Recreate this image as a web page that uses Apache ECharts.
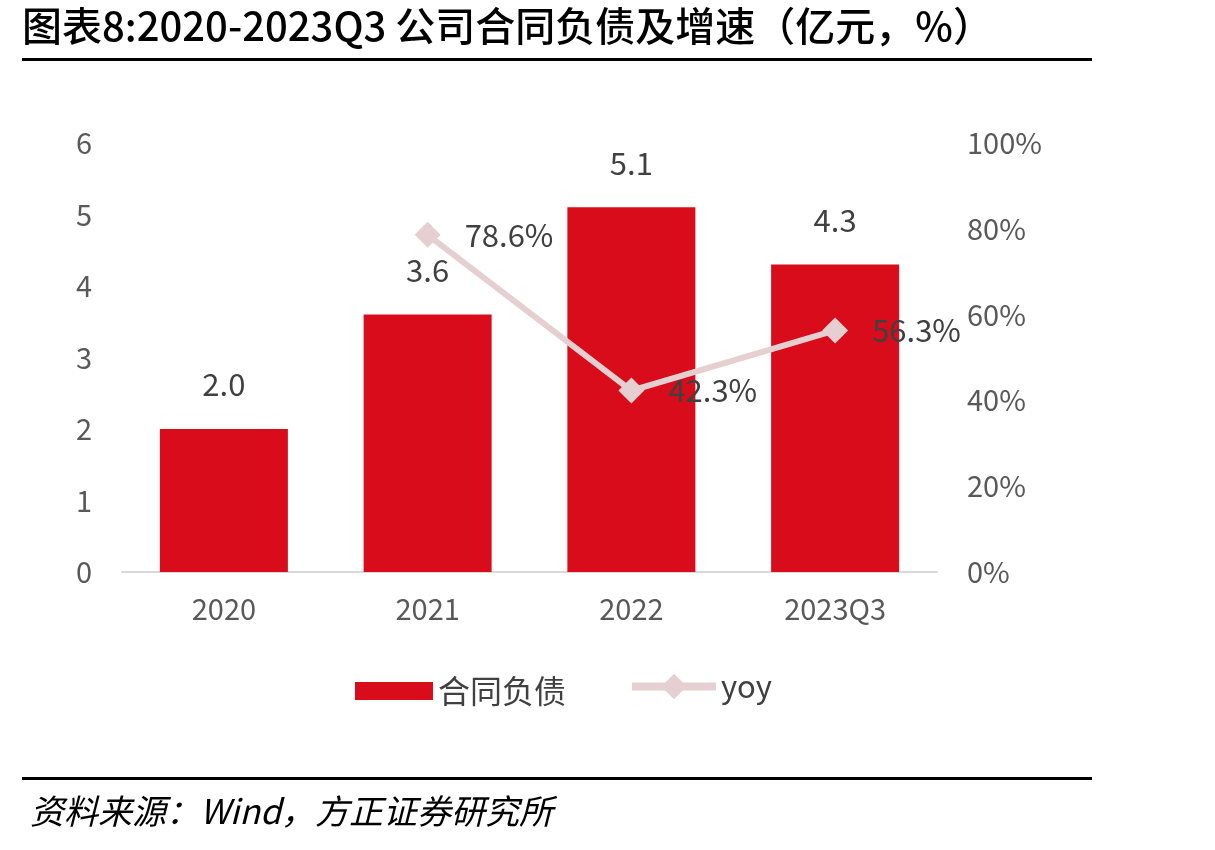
<!DOCTYPE html>
<html>
<head>
<meta charset="utf-8">
<script src="https://cdn.jsdelivr.net/npm/echarts@6/dist/echarts.min.js"></script>
<style>
    html, body { margin: 0; padding: 0; background: #fff; }
    #main { width: 1215px; height: 850px; }
</style>
</head>
<body>
<div id="main"></div>
<script>
    // 数据
    var categories = ['2020', '2021', '2022', '2023Q3'];
    var liabilities = [2.0, 3.6, 5.1, 4.3];      // 合同负债（亿元）
    var yoy = [null, 78.6, 42.3, 56.3];          // 增速（%）
    var leftTicks = [0, 6, 1];
    var rightTicks = [0, 100, 20];

    var myChart = echarts.init(document.getElementById('main'));

    var labelFont = '"Noto Sans CJK SC", "Noto Sans", sans-serif';

    option = {
        backgroundColor: '#fff',
        animation: false,
        textStyle: { fontFamily: labelFont },
        graphic: [
            {
                type: 'text', left: 22, top: 6,
                style: { text: '图表8:2020-2023Q3 公司合同负债及增速（亿元，%）', font: '500 40px "Noto Sans CJK SC"', fill: '#000' }
            },
            { type: 'rect', shape: { x: 22, y: 58, width: 1070, height: 3 }, style: { fill: '#000' } },
            { type: 'rect', shape: { x: 22, y: 777, width: 1070, height: 3 }, style: { fill: '#000' } },
            {
                type: 'text', left: 30, top: 794,
                style: { text: '资料来源：Wind，方正证券研究所', font: 'italic 34px "Noto Sans CJK SC"', fill: '#000' }
            }
        ],
        legend: [
            {
                left: 350,
                top: 670,
                itemWidth: 78,
                itemHeight: 18,
                itemGap: 12,
                textStyle: { fontSize: 32, color: '#404040' },
                data: [{ name: '合同负债', icon: 'rect' }]
            },
            {
                left: 623,
                top: 666,
                itemWidth: 84,
                itemHeight: 32,
                itemGap: 8,
                textStyle: { fontSize: 31, color: '#404040' },
                data: [{ name: 'yoy', lineStyle: { width: 8, color: '#E6CFD0' } }]
            }
        ],
        grid: {
            left: 122,
            right: 278,
            top: 143,
            bottom: 278
        },
        xAxis: {
            type: 'category',
            data: categories,
            axisLine: { lineStyle: { color: '#D9D9D9', width: 2 } },
            axisTick: { show: false },
            axisLabel: { fontSize: 29, color: '#595959', margin: 22 }
        },
        yAxis: [
            {
                type: 'value',
                min: leftTicks[0], max: leftTicks[1], interval: leftTicks[2],
                splitLine: { show: false },
                axisLine: { show: false },
                axisLabel: { fontSize: 29, color: '#595959', margin: 30 }
            },
            {
                type: 'value',
                min: rightTicks[0], max: rightTicks[1], interval: rightTicks[2],
                splitLine: { show: false },
                axisLine: { show: false },
                axisLabel: { fontSize: 29, color: '#595959', margin: 30, formatter: '{value}%' }
            }
        ],
        series: [
            {
                name: '合同负债',
                type: 'bar',
                data: liabilities,
                barWidth: 128,
                itemStyle: { color: '#D80C1A' },
                label: {
                    show: true, position: 'top', distance: 29,
                    fontSize: 31, color: '#404040',
                    formatter: function (p) { return p.value.toFixed(1); }
                }
            },
            {
                name: 'yoy',
                type: 'line',
                yAxisIndex: 1,
                data: yoy,
                symbol: 'diamond',
                symbolSize: 26,
                lineStyle: { color: '#E6CFD0', width: 6 },
                itemStyle: { color: '#E6CFD0' },
                label: {
                    show: true, position: 'right', distance: 24,
                    fontSize: 31, color: '#404040',
                    formatter: function (p) { return p.value.toFixed(1) + '%'; }
                }
            }
        ]
    };
    myChart.setOption(option);
</script>
</body>
</html>
